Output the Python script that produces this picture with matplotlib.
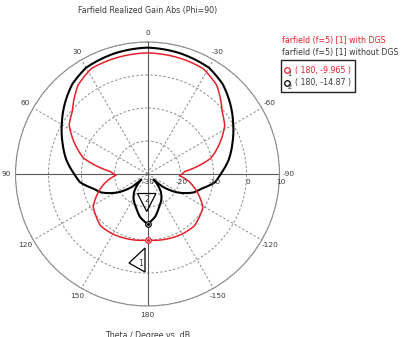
import numpy as np
import matplotlib
matplotlib.use("Agg")
import matplotlib.pyplot as plt
from matplotlib.patches import Polygon, Rectangle
from matplotlib.lines import Line2D
from matplotlib import transforms

# angles in degrees (positive = to the left of 0), gain in dB
red_theta = [-180, -162, -150, -138, -121, -108, -100, -93, -86, -76, -66, -58, -50, -38, -28, -18,
             0, 18, 28, 38, 50, 58, 66, 76, 86, 92, 100, 108, 121, 138, 150, 162, 180]
red_gain = [-9.965, -9.4, -9.0, -8.8, -10.4, -14.6, -17.3, -20.3, -18.6, -10.2, -5.8, -2.4, -0.5, 4.1, 6.1, 6.4,
            6.7, 6.4, 6.2, 4.2, -0.3, -2.0, -5.5, -10.0, -18.6, -20.5, -17.5, -14.8, -10.8, -8.8, -9.0, -9.4, -9.965]

black_theta = [-180, -170, -162, -150, -143, -137, -132, -130, -122, -112, -105, -97, -90, -80, -70, -60, -50, -40, -30, -15,
               0, 15, 30, 40, 50, 60, 70, 80, 90, 97, 105, 112, 122, 130, 132, 137, 143, 150, 162, 170, 180]
black_gain = [-14.87, -16.8, -19.1, -21.5, -23.3, -25.5, -27.5, -24.0, -19.5, -15.0, -13.0, -9.4, -7.8, -5.0, -2.6, 0.0, 2.8, 5.5, 7.2, 7.9,
              8.3, 7.9, 7.2, 5.5, 2.8, 0.0, -2.6, -5.0, -7.8, -9.4, -13.0, -15.0, -19.5, -24.0, -27.5, -25.5, -23.3, -21.5, -19.1, -16.8, -14.87]

angle_ticks = [0, 30, 60, 90, 120, 150, 180, 210, 240, 270, 300, 330]
angle_labels = ["0", "30", "60", "90", "120", "150", "180", "-150", "-120", "-90", "-60", "-30"]
r_ticks = [-30, -20, -10, 0, 10]

marker_theta = 180
marker_red = -9.965
marker_black = -14.87

W, H = 404, 337
RED = "#e8202a"
GRID = "#8c8c8c"
TXT = "#3a3a3a"


def px(x, y):
    """pixel position (from top-left) -> figure fraction"""
    return x / W, 1 - y / H


fig = plt.figure(figsize=(W / 100, H / 100), dpi=100)
plt.rcParams["font.family"] = ["DejaVu Sans"]
fs = 5.3

cx, cy, R = 147.5, 174, 132
ax = fig.add_axes([(cx - R) / W, (H - cy - R) / H, 2 * R / W, 2 * R / H], projection="polar")
ax.set_theta_zero_location("N")
ax.set_theta_direction(1)
ax.set_ylim(-30, 10)

ax.set_thetagrids(angle_ticks, angle_labels, fontsize=fs, color=TXT)
ax.tick_params(axis="x", pad=-4)
ax.set_rgrids(r_ticks, [""] * len(r_ticks))
ax.grid(True, color=GRID, linestyle=(0, (2.5, 2)), linewidth=0.7)
ax.spines["polar"].set_color("#8a8a8a")
ax.spines["polar"].set_linewidth(0.8)

# solid main axes
for a in [0, 90, 180, 270]:
    ax.plot([np.radians(a), np.radians(a)], [-30, 10], color="#5a5a5a", lw=0.8, zorder=2)

# radial labels below the horizontal axis
off = transforms.offset_copy(ax.transData, fig=fig, x=1, y=-5, units="dots")
for r in r_ticks:
    ax.text(np.radians(270), r, str(r), transform=off, ha="center", va="top",
            fontsize=fs, color=TXT, zorder=5)

lb, = ax.plot(np.radians(black_theta), black_gain, color="black", lw=1.5, zorder=3)
lr, = ax.plot(np.radians(red_theta), red_gain, color=RED, lw=1.1, zorder=4)
# let the polar transform draw each segment as a curve in (theta, r)
for ln in (lb, lr):
    ln.get_path()._interpolation_steps = 40

for g, c in [(marker_red, RED), (marker_black, "black")]:
    ax.plot(np.radians(marker_theta), g, "o", ms=4, mfc="white", mec=c, mew=0.9, zorder=6)
    ax.plot(np.radians(marker_theta), g, "o", ms=1.2, color=c, zorder=7)

# marker label triangles
fig.add_artist(Polygon([px(137.5, 193.5), px(156, 193.5), px(146.7, 211.5)], closed=True,
                       fill=False, ec="black", lw=0.9))
fig.text(*px(147, 200), "2", fontsize=fs + 0.5, color=TXT, ha="center", va="center")
fig.add_artist(Polygon([px(145, 248), px(145, 272), px(129, 263)], closed=True,
                       fill=False, ec="black", lw=0.9))
fig.text(*px(140.5, 264), "1", fontsize=fs + 0.5, color=TXT, ha="center", va="center")

# title and footer
fig.text(*px(cx, 10), "Farfield Realized Gain Abs (Phi=90)", fontsize=fs + 0.4, color=TXT,
         ha="center", va="center")
fig.text(*px(cx, 331), "Theta / Degree vs. dB", fontsize=fs + 0.4, color=TXT,
         ha="center", va="top")

# legend
lfs = 5.7
lx = 282
fig.text(*px(lx, 41), "farfield (f=5) [1] with DGS", fontsize=lfs, color=RED, va="center")
fig.text(*px(lx, 52), "farfield (f=5) [1] without DGS", fontsize=lfs, color=TXT, va="center")
bx0, by0 = px(lx - 1, 92)
bx1, by1 = px(355, 60)
fig.add_artist(Rectangle((bx0, by0), bx1 - bx0, by1 - by0, fill=False, ec="#222222", lw=1.0))
for yy, c, n, txt in [(70, RED, "1", "( 180, -9.965 )"), (83, "black", "2", "( 180, -14.87 )")]:
    fig.add_artist(Line2D([px(lx + 5, yy)[0]], [px(lx + 5, yy)[1]], marker="o", ms=4, mfc="white",
                          mec=c, mew=0.9))
    fig.text(*px(lx + 7.5, yy + 4), n, fontsize=fs - 0.5, color=TXT, ha="center", va="center")
    fig.text(*px(lx + 13, yy), txt, fontsize=lfs, color=c if c == RED else TXT, va="center")

fig.savefig("out.png", dpi=100)
